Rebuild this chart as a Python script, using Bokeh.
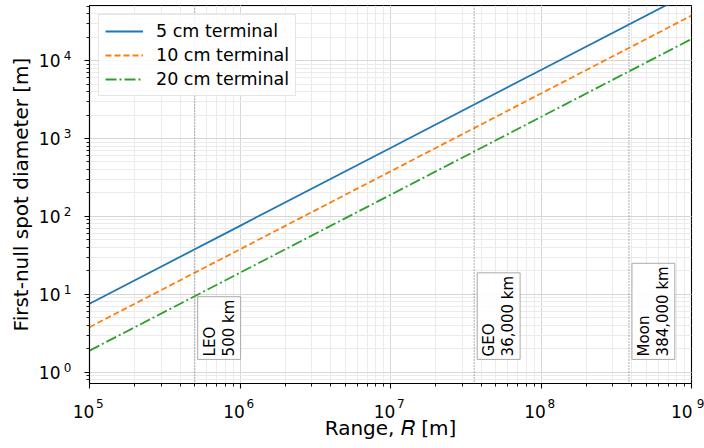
import math
from bokeh.plotting import figure
from bokeh.models import (LogTicker, FixedTicker, LogAxis, CustomJSTickFormatter, Label, Span,
                          Legend, LegendItem)
from bokeh.embed import file_html
from bokeh.resources import INLINE

# ---- data ----
range_m = [1e5, 1e6, 1e7, 1e8, 1e9]
spot_5cm = [7.56, 75.6, 756.0, 7560.0, 75600.0]
spot_10cm = [3.78, 37.8, 378.0, 3780.0, 37800.0]
spot_20cm = [1.89, 18.9, 189.0, 1890.0, 18900.0]
series_names = ["5 cm terminal", "10 cm terminal", "20 cm terminal"]
series_colors = ["#1f77b4", "#ff7f0e", "#2ca02c"]
series_dash = ["solid", "6 3", "11 3 2 3"]

x_tick_exponents = [5, 6, 7, 8, 9]
y_tick_exponents = [0, 1, 2, 3, 4]
tick_base = "10"

marker_ranges = [5e5, 3.6e7, 3.84e8]
marker_texts = ["LEO\n500 km", "GEO\n36,000 km", "Moon\n384,000 km"]

FONT = "DejaVu Sans"
Y0, Y1 = 0.716, 5.09e4
X0, X1 = 1e5, 1e9
SUP_RAISE = 1.149          # lifts y-axis exponents ~4.7 px above their tick

EN = "\u2002"
EM = "\u2003"
THIN = "\u2009"
BLANK = CustomJSTickFormatter(code='return "";')

p = figure(x_axis_type="log", y_axis_type="log",
           x_range=(X0, X1), y_range=(Y0, Y1),
           frame_width=602, frame_height=378,
           min_border_left=89, min_border_right=13, min_border_top=5, min_border_bottom=60,
           output_backend="svg", toolbar_location=None)

p.background_fill_color = "white"
p.border_fill_color = "white"
p.outline_line_color = "black"
p.outline_line_width = 1.1

# main axes (closest to the frame): tick marks
for ax in (p.xaxis[0], p.yaxis[0]):
    ax.ticker = LogTicker(num_minor_ticks=10, mantissas=[1])
    ax.formatter = BLANK
    ax.major_label_text_font = FONT
    ax.major_label_text_font_size = "12px"
    ax.major_label_text_color = "black"
    ax.axis_line_color = "black"
    ax.axis_line_width = 1.1
    ax.major_tick_line_color = "black"
    ax.major_tick_line_width = 1.1
    ax.minor_tick_line_color = "black"
    ax.minor_tick_line_width = 0.9
    ax.major_tick_in = 0
    ax.major_tick_out = 5
    ax.minor_tick_in = 0
    ax.minor_tick_out = 3

# x exponents live on the main x axis (padded so they sit right of the mantissa)
p.xaxis[0].major_label_overrides = {10.0 ** e: EM + EN + THIN + str(e) for e in x_tick_exponents}
p.xaxis[0].major_label_standoff = 8
p.yaxis[0].major_label_standoff = 0


def bare_axis(ticker, formatter, overrides, size, **kw):
    return LogAxis(ticker=ticker, formatter=formatter, major_label_overrides=overrides,
                   axis_line_color=None, major_tick_line_color=None, minor_tick_line_color=None,
                   major_tick_in=0, major_tick_out=0, minor_tick_in=0, minor_tick_out=0,
                   major_label_text_font=FONT, major_label_text_font_size=size,
                   major_label_text_color="black",
                   axis_label_text_font=FONT, axis_label_text_font_size="20px",
                   axis_label_text_font_style="normal", axis_label_text_color="black", **kw)


# y exponents: raised copy of the decade ticks
yexp = bare_axis(FixedTicker(ticks=[10.0 ** e * SUP_RAISE for e in y_tick_exponents]),
                 CustomJSTickFormatter(code='return String(Math.floor(Math.log10(tick)));'),
                 {}, "12px", major_label_standoff=13)

xaxis2 = bare_axis(LogTicker(num_minor_ticks=10, mantissas=[1]), BLANK,
                   {10.0 ** e: tick_base + EN + THIN for e in x_tick_exponents}, "17px",
                   major_label_standoff=-12, axis_label="Range, \U0001D445 [m]",
                   axis_label_standoff=-9)
yaxis2 = bare_axis(LogTicker(num_minor_ticks=10, mantissas=[1]), BLANK,
                   {10.0 ** e: tick_base for e in y_tick_exponents}, "17px",
                   major_label_standoff=0, axis_label="First-null spot diameter [m]",
                   axis_label_standoff=3)
p.add_layout(xaxis2, "below")
p.add_layout(yexp, "left")
p.add_layout(yaxis2, "left")

for g in (p.xgrid[0], p.ygrid[0]):
    g.grid_line_color = "#d6d6d6"
    g.grid_line_width = 1
    g.minor_grid_line_color = "#ebebeb"
    g.minor_grid_line_width = 1

# vertical reference lines
for xr in marker_ranges:
    p.add_layout(Span(location=xr, dimension="height", line_color="#7a7a7a",
                      line_width=1.2, line_dash="1 2"))

# series
renderers = []
for ys, c, d in zip([spot_5cm, spot_10cm, spot_20cm], series_colors, series_dash):
    r = p.line(range_m, ys, line_color=c, line_width=1.8, line_dash=d)
    renderers.append(r)

# annotation labels
for xr, t in zip(marker_ranges, marker_texts):
    p.add_layout(Label(x=xr, y=1.46, x_offset=3, text=t, angle=math.pi / 2,
                       text_align="left", text_baseline="top",
                       text_font=FONT, text_font_size="15px", text_color="black",
                       text_line_height=1.05,
                       background_fill_color="white", background_fill_alpha=0.9,
                       border_line_color="#aaaaaa", border_line_width=1,
                       padding=3))

legend = Legend(items=[LegendItem(label=n, renderers=[r]) for n, r in zip(series_names, renderers)],
                location="top_left", margin=9,
                label_text_font=FONT, label_text_font_size="17.5px", label_text_color="black",
                glyph_width=38, glyph_height=20, label_height=20, spacing=4,
                padding=6, label_standoff=13,
                border_line_color="#cccccc", border_line_width=1,
                background_fill_color="white", background_fill_alpha=0.85)
p.add_layout(legend)

open("out.html", "w").write(file_html(p, INLINE))
